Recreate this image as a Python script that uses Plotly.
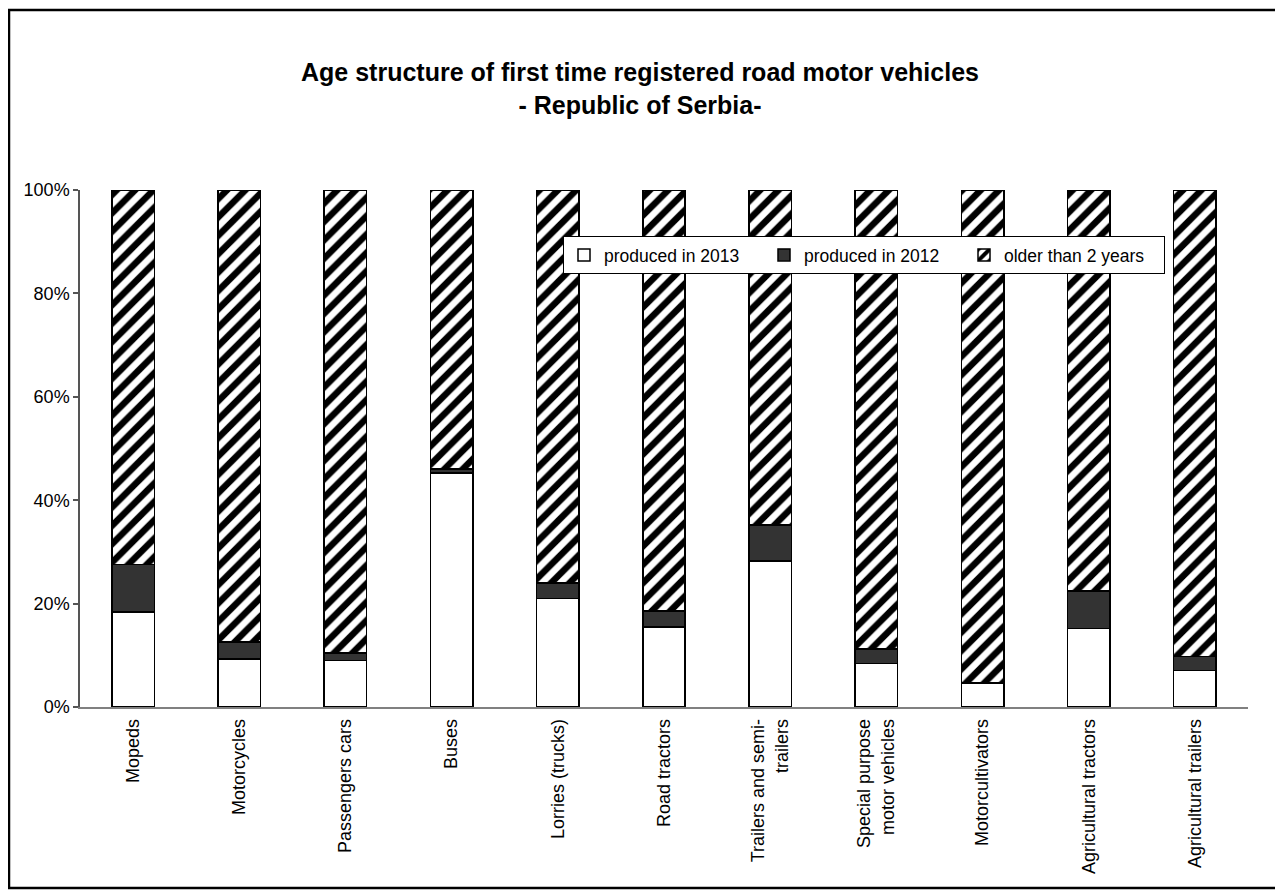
import plotly.graph_objects as go

categories = ["Mopeds", "Motorcycles", "Passengers cars", "Buses", "Lorries (trucks)",
              "Road tractors", "Trailers and semi-<br>trailers", "Special purpose<br>motor vehicles",
              "Motorcultivators", "Agricultural tractors", "Agricultural trailers"]
produced_2013 = [18.4, 9.3, 9.0, 45.3, 21.0, 15.5, 28.2, 8.4, 4.5, 15.2, 7.1]
produced_2012 = [9.2, 3.3, 1.4, 0.7, 3.0, 3.1, 7.0, 2.8, 0.2, 7.2, 2.7]
older_than_2 = [72.4, 87.4, 89.6, 54.0, 76.0, 81.4, 64.8, 88.8, 95.3, 77.6, 90.2]
y_ticks = [0, 20, 40, 60, 80, 100]
y_tick_labels = ["0%", "20%", "40%", "60%", "80%", "100%"]

FONT = "Liberation Sans, Arial, sans-serif"
OFF = 8  # page body margin
W, H = 1283 - OFF, 890 - OFF
# plot area in page coordinates
PX0, PX1, PY0, PY1 = 80, 1248, 190, 707
L, R = PX0 - OFF, W - (PX1 - OFF)
T, B = PY0 - OFF, H - (PY1 - OFF)
pw, ph = W - L - R, H - T - B

def px(x):
    return (x - OFF - L) / pw

def py(y):
    return (H - B - (y - OFF)) / ph

line = dict(color="black", width=1.5)
fig = go.Figure()
fig.add_trace(go.Bar(name="produced in 2013", x=categories, y=produced_2013,
                     marker=dict(color="white", line=line)))
fig.add_trace(go.Bar(name="produced in 2012", x=categories, y=produced_2012,
                     marker=dict(color="#333333", line=line)))
fig.add_trace(go.Bar(name="older than 2 years", x=categories, y=older_than_2,
                     marker=dict(color="white", line=line,
                                 pattern=dict(shape="/", fgcolor="#000000", bgcolor="white",
                                              fgopacity=1, size=13, solidity=0.5))))

fig.update_layout(
    barmode="stack", bargap=0.6,
    width=W, height=H,
    margin=dict(l=L, r=R, t=T, b=B, pad=0),
    paper_bgcolor="white", plot_bgcolor="white",
    font=dict(family=FONT, size=18, color="black"),
    showlegend=True,
    legend=dict(orientation="h", x=px(563), y=py(236), xanchor="left", yanchor="top",
                bordercolor="black", borderwidth=1, bgcolor="white",
                font=dict(size=17.5), traceorder="normal",
                entrywidth=155, entrywidthmode="pixels"),
    annotations=[
        dict(text="<b>Age structure of first time registered road motor vehicles<br>- Republic of Serbia-</b>",
             x=px(640), y=py(88), xref="paper", yref="paper",
             xanchor="center", yanchor="middle", showarrow=False,
             font=dict(family=FONT, size=25, color="black")),
    ],
    shapes=[dict(type="rect", xref="paper", yref="paper",
                 x0=px(9), x1=px(1280), y0=py(888), y1=py(10),
                 line=dict(color="black", width=2.5), fillcolor="rgba(0,0,0,0)", layer="above")],
)
fig.update_yaxes(range=[0, 100], tickvals=y_ticks, ticktext=y_tick_labels, showgrid=False,
                 showline=True, linecolor="#555555", linewidth=1.5,
                 ticks="outside", ticklen=5, tickcolor="#555555", tickwidth=1.5,
                 zeroline=False, tickfont=dict(size=18), fixedrange=True)
fig.update_xaxes(showline=True, linecolor="#808080", linewidth=1.5, ticks="",
                 tickangle=-90, tickfont=dict(size=18), showgrid=False, fixedrange=True,
                 ticklabelstandoff=3)

fig.write_html("out.html")
